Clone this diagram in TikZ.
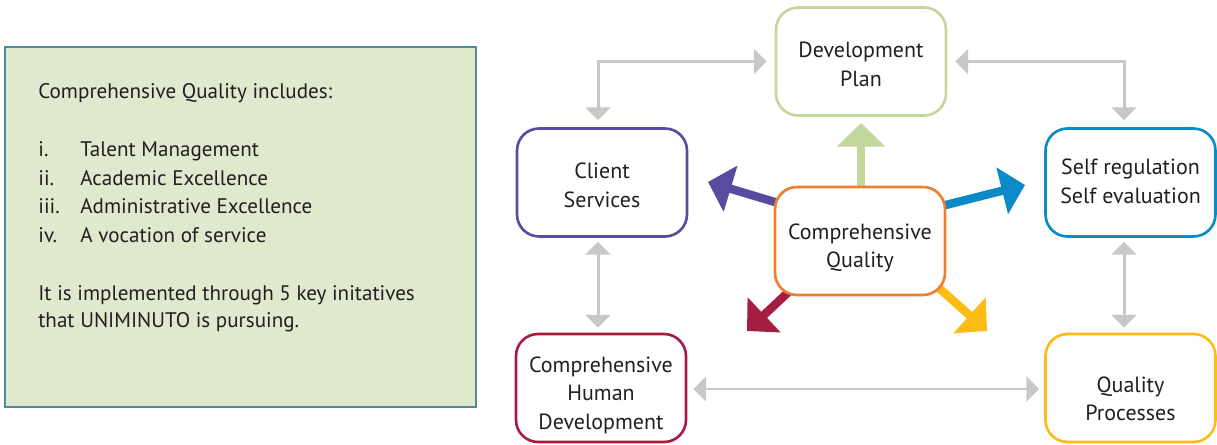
\documentclass[tikz,border=0pt]{standalone}
\usepackage{fontspec}
\setmainfont{PT Sans}
\usetikzlibrary{arrows.meta,calc,backgrounds}
\definecolor{boxfill}{HTML}{E0E8CE}
\definecolor{boxline}{HTML}{4F8A96}
\definecolor{cgreen}{HTML}{C3D69B}
\definecolor{cpurple}{HTML}{5B4B9E}
\definecolor{cblue}{HTML}{0A8AC6}
\definecolor{corange}{HTML}{F07E2C}
\definecolor{ccrimson}{HTML}{A51D42}
\definecolor{cyellow}{HTML}{FDBB16}
\definecolor{cgray}{HTML}{C8C8CA}
\definecolor{ink}{HTML}{231F20}
\newcommand{\mylines}[1]{\begin{tabular}{@{}c@{}}#1\end{tabular}}
\begin{document}
\begin{tikzpicture}[x=0.02cm,y=-0.02cm,
  txt/.style={anchor=base west, inner sep=0pt, text=ink, font=\fontsize{12}{16}\selectfont},
  rbox/.style={draw, line width=1.5pt, rounded corners=0.44cm, fill=white,
    minimum width=3.4cm, minimum height=2.16cm, inner sep=0pt},
  lbl/.style={inner sep=0pt, align=center, text=ink, font=\fontsize{12.5}{16.2}\selectfont},
  conn/.style={draw=cgray, line width=1.7pt, {Triangle[width=14pt,length=7.3pt]}-{Triangle[width=14pt,length=7.3pt]}},
  fat/.style={line width=4.8pt, -{Triangle[width=26.7pt,length=13.4pt]}}]
\useasboundingbox (0,0) rectangle (1217,445);
% left box
\node[draw=boxline, fill=boxfill, line width=1.2pt, minimum width=9.42cm, minimum height=7.2cm, inner sep=0pt] (info) at (240.5,227) {};
\node[txt] (t0) at (38,99) {Comprehensive Quality includes:};
\node[txt] (n1) at (38,157) {i.};
\node[txt] (n2) at (38,186) {ii.};
\node[txt] (n3) at (38,214) {iii.};
\node[txt] (n4) at (38,243) {iv.};
\node[txt] (i1) at (80,157) {Talent Management};
\node[txt] (i2) at (80,186) {Academic Excellence};
\node[txt] (i3) at (80,214) {Administrative Excellence};
\node[txt] (i4) at (80,243) {A vocation of service};
\node[txt] (t5) at (38,301) {It is implemented through 5 key initatives};
\node[txt] (t6) at (38,328) {that UNIMINUTO is pursuing.};
% nodes
\node[rbox, draw=cgreen] (dp) at (861,61.5) {};
\node[rbox, draw=cpurple] (cs) at (602,182.5) {};
\node[rbox, draw=cblue] (sr) at (1130.5,182.5) {};
\node[rbox, draw=corange] (cq) at (860,241) {};
\node[rbox, draw=ccrimson] (chd) at (601,388) {};
\node[rbox, draw=cyellow] (qp) at (1130.5,388) {};
\node[lbl] (dpL) at ($(dp)+(0,5)$) {\mylines{Development\\Plan}};
\node[lbl] (csL) at ($(cs)+(0,5)$) {\mylines{Client\\Services}};
\node[lbl] (srL) at ($(sr)+(0,1)$) {\mylines{Self regulation\\Self evaluation}};
\node[lbl] (cqL) at ($(cq)+(0,7)$) {\mylines{Comprehensive\\Quality}};
\node[lbl] (chdL) at ($(chd)+(0,7)$) {\mylines{Comprehensive\\Human\\Development}};
\node[lbl] (qpL) at ($(qp)+(0,13)$) {\mylines{Quality\\Processes}};
% gray connectors
\draw[conn] ($(cs.north)+(-4,-7)$) |- ($(dp.west)+(-8,0)$);
\draw[conn] ($(dp.east)+(8,0)$) -| ($(sr.north)+(-6.5,-7)$);
\draw[conn] ($(cs.south)+(-4,4)$) -- ($(cs.south|-chd.north)+(-4,-5)$);
\draw[conn] ($(sr.south)+(-6.5,4)$) -- ($(sr.south|-qp.north)+(-6.5,-5)$);
\draw[conn] ($(chd.east)+(6,1)$) -- ($(qp.west|-chd.east)+(-5,1)$);
% coloured arrows
\coordinate (gT) at (861,123);
\coordinate (pT) at (708,182);
\coordinate (bT) at (1025,185);
\coordinate (rT) at (747,331);
\coordinate (yT) at (987,331);
\begin{scope}[on background layer]
\draw[fat, cgreen] (861,230) -- (gT);
\draw[fat, cpurple] (808,212) -- (pT);
\draw[fat, cblue] (910,214) -- (bT);
\draw[fat, ccrimson] (815,267) -- (rT);
\draw[fat, cyellow] (910,262) -- (yT);
\end{scope}
\end{tikzpicture}
\end{document}
